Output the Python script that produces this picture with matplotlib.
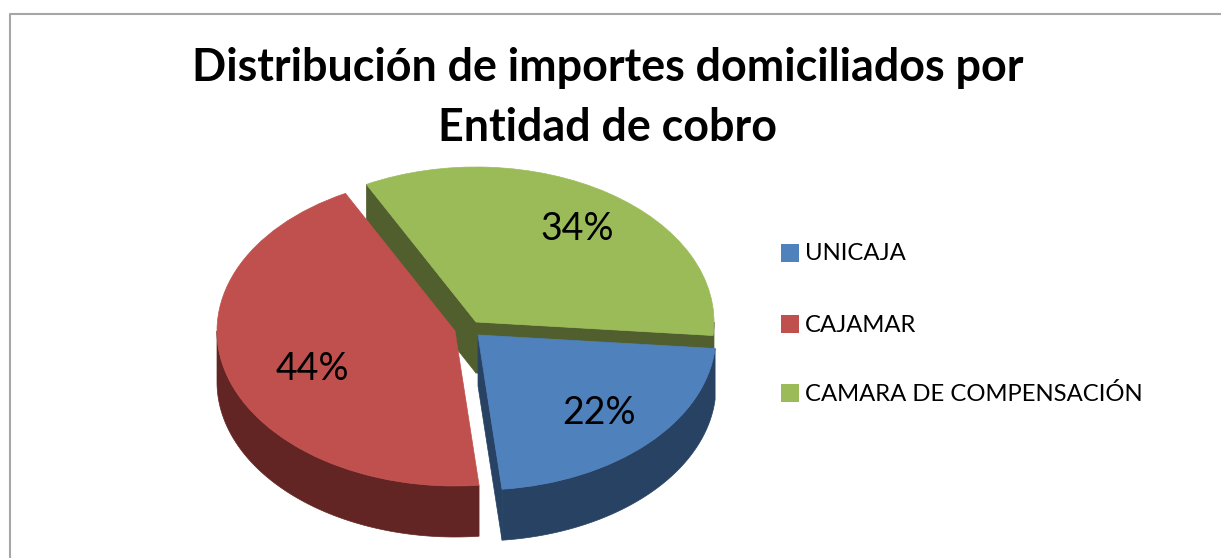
import numpy as np
import matplotlib
matplotlib.use("Agg")
import matplotlib.pyplot as plt
from matplotlib.patches import Polygon, Rectangle, Wedge
from matplotlib.transforms import Affine2D

plt.rcParams['font.family'] = ['Lato', 'DejaVu Sans']

categorias = ["UNICAJA", "CAJAMAR", "CAMARA DE COMPENSACIÓN"]
porcentajes = [22, 44, 34]
colores = ["#4F81BD", "#C0504D", "#9BBB59"]
colores_lado = ["#284264", "#632523", "#505F2D"]
titulo = "Distribución de importes domiciliados por\nEntidad de cobro"

# la figura se trabaja en pixeles
fig = plt.figure(figsize=(12.21, 5.58), dpi=100)
ax = fig.add_axes([0, 0, 1, 1])
ax.set_xlim(0, 1221)
ax.set_ylim(558, 0)
ax.axis("off")

# marco del grafico, solo arriba e izquierda
ax.plot([9.5, 9.5, 1221], [558, 13.5, 13.5], color="#A6A6A6", lw=1.5)

ax.text(608, 98, titulo, ha="center", va="center", fontsize=32.3, fontweight="bold",
        color="black", linespacing=1.55)

rx, ry = 238, 155
fondo = 51
inicio = -5
centros = [(478, 335), (455, 331), (476, 322)]

# angulos de cada porcion, en sentido horario
angulos = []
a = inicio
for p in porcentajes:
    angulos.append((a, a - p * 3.6))
    a = a - p * 3.6


def punto(c, t):
    return c[0] + rx * np.cos(np.radians(t)), c[1] - ry * np.sin(np.radians(t))


def lado_exterior(c, t1, t2, color):
    t = np.linspace(t1, t2, 80)
    x = c[0] + rx * np.cos(np.radians(t))
    y = c[1] - ry * np.sin(np.radians(t))
    pts = list(zip(x, y)) + list(zip(x[::-1], y[::-1] + fondo))
    ax.add_patch(Polygon(pts, closed=True, fc=color, ec=color, lw=0.5))


def cara_corte(c, t, color):
    x, y = punto(c, t)
    pts = [c, (x, y), (x, y + fondo), (c[0], c[1] + fondo)]
    ax.add_patch(Polygon(pts, closed=True, fc=color, ec=color, lw=0.5))


def tapa(c, t1, t2, color):
    trans = Affine2D().scale(rx, -ry).translate(c[0], c[1]) + ax.transData
    ax.add_patch(Wedge((0, 0), 1, t2, t1, fc=color, ec=color, lw=0.5, transform=trans))


# verde primero, queda detras
cara_corte(centros[2], angulos[2][0], colores_lado[2])
cara_corte(centros[2], angulos[2][1], colores_lado[2])
lado_exterior(centros[2], 0, inicio, colores_lado[2])
tapa(centros[2], angulos[2][0], angulos[2][1], colores[2])

# azul
cara_corte(centros[0], angulos[0][1], colores_lado[0])
lado_exterior(centros[0], angulos[0][0], angulos[0][1], colores_lado[0])
tapa(centros[0], angulos[0][0], angulos[0][1], colores[0])

# rojo
lado_exterior(centros[1], angulos[1][0], -180, colores_lado[1])
tapa(centros[1], angulos[1][0], angulos[1][1], colores[1])

# etiquetas de porcentaje
pos_etiquetas = [(599, 413), (312, 369), (577, 229)]
for p, (x, y) in zip(porcentajes, pos_etiquetas):
    ax.text(x, y, f"{p}%", ha="center", va="center", fontsize=27, color="black")

# leyenda
for nombre, color, y in zip(categorias, colores, [253, 324, 393]):
    ax.add_patch(Rectangle((781, y - 9), 18, 18, fc=color, ec="none"))
    ax.text(805, y + 1, nombre, ha="left", va="center", fontsize=17.2, color="black")

fig.savefig("out.png", dpi=100)
